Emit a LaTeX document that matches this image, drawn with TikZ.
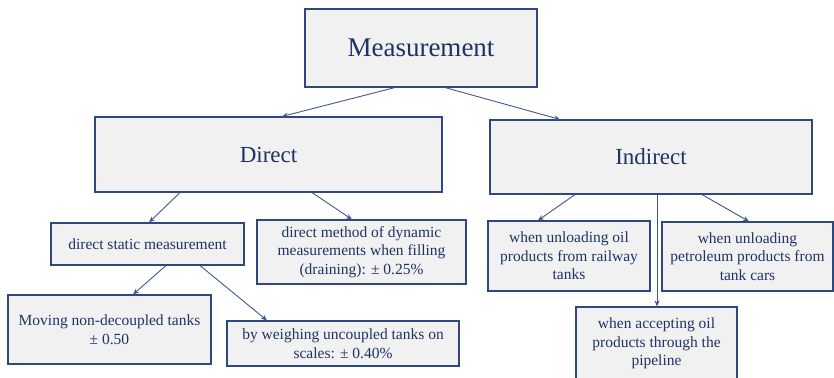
\documentclass[tikz,border=0pt]{standalone}
\usepackage{fontspec}
\setmainfont{Liberation Serif}
\usetikzlibrary{arrows.meta}
\definecolor{boxfill}{RGB}{241,241,241}
\definecolor{boxline}{RGB}{47,72,126}
\definecolor{txtcol}{RGB}{31,50,99}
\definecolor{arrcol}{RGB}{62,88,142}
\tikzset{
  box/.style={draw=boxline, fill=boxfill, line width=1.1pt, text=txtcol, inner sep=0pt, align=center},
  bigtxt/.style={font=\fontsize{27}{32}\selectfont},
  midtxt/.style={font=\fontsize{23}{27}\selectfont},
  smalltxt/.style={font=\fontsize{15.5}{18.5}\selectfont},
  arr/.style={draw=arrcol, line width=0.9pt, -{Stealth[length=6pt,width=5pt]}}
}
\begin{document}
\begin{tikzpicture}[x=1pt,y=-1pt]
\useasboundingbox (0,0) rectangle (834,377);
\node[box,bigtxt,minimum width=232pt,minimum height=78pt] (meas) at (421,48) {Measurement};
\node[box,midtxt,minimum width=347pt,minimum height=75pt] (direct) at (268.5,154.5) {Direct};
\node[box,midtxt,minimum width=322pt,minimum height=74pt] (indirect) at (651,157) {Indirect};
\node[box,smalltxt,minimum width=193pt,minimum height=42pt] (static) at (147.5,244) {direct static measurement};
\node[box,smalltxt,minimum width=209pt,minimum height=64pt] (dynamic) at (361.5,252) {direct method of dynamic\\measurements when filling\\(draining): ± 0.25\%};
\node[box,smalltxt,minimum width=203pt,minimum height=69pt] (moving) at (109.5,329.5) {Moving non-decoupled tanks\\± 0.50};
\node[box,smalltxt,minimum width=232pt,minimum height=45pt] (weigh) at (343,343.5) {by weighing uncoupled tanks on\\scales: ± 0.40\%};
\node[box,smalltxt,minimum width=162pt,minimum height=70pt] (rail) at (569,256) {when unloading oil\\products from railway\\tanks};
\node[box,smalltxt,minimum width=171pt,minimum height=69pt] (tank) at (747.5,256.5) {when unloading\\petroleum products from\\tank cars};
\node[box,smalltxt,minimum width=161pt,minimum height=73pt] (pipe) at (656.5,343.5) {when accepting oil\\products through the\\pipeline};
\draw[arr] ([xshift=-26pt]meas.south) -- ([xshift=13.5pt]direct.north);
\draw[arr] ([xshift=24pt]meas.south) -- ([xshift=-91pt]indirect.north);
\draw[arr] ([xshift=-88.5pt]direct.south) -- ([xshift=1.5pt]static.north);
\draw[arr] ([xshift=43.5pt]direct.south) -- ([xshift=-9.5pt]dynamic.north);
\draw[arr] ([xshift=18.5pt]static.south) -- ([xshift=23.5pt]moving.north);
\draw[arr] ([xshift=52.5pt]static.south) -- ([xshift=-76pt]weigh.north);
\draw[arr] ([xshift=-76pt]indirect.south) -- ([xshift=-31pt]rail.north);
\draw[arr] ([xshift=51pt]indirect.south) -- ([xshift=1.5pt]tank.north);
\draw[arr] ([xshift=6pt]indirect.south) -- ([xshift=0.5pt]pipe.north);
\end{tikzpicture}
\end{document}
